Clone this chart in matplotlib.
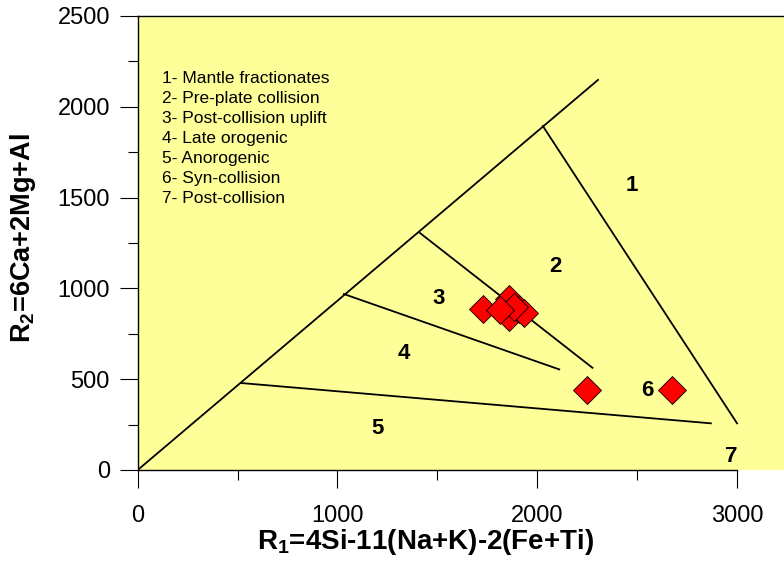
import matplotlib
matplotlib.use("Agg")
import matplotlib.pyplot as plt
from matplotlib.ticker import MultipleLocator, FixedLocator

plt.rcParams['font.family'] = ['Liberation Sans', 'DejaVu Sans']
plt.rcParams['mathtext.fontset'] = 'custom'
plt.rcParams['mathtext.rm'] = 'Liberation Sans'
plt.rcParams['mathtext.bf'] = 'Liberation Sans:bold'

# Field boundary lines (R1, R2)
boundary_lines = [
    ([0, 2304], [0, 2148]),
    ([2028, 3000], [1894, 257]),
    ([1413, 2276], [1305, 563]),
    ([1032, 2110], [969, 554]),
    ([517, 2869], [479, 257]),
]

# Field labels
field_labels = ["1", "2", "3", "4", "5", "6", "7"]
field_x = [2475, 2089, 1508, 1334, 1200, 2553, 2969]
field_y = [1569, 1118, 945, 643, 230, 437, 77]

# Sample points
sample_r1 = [1730, 1858, 1860, 1907, 1933, 1885, 1813, 2250, 2674]
sample_r2 = [885, 940, 844, 885, 863, 899, 881, 441, 441]

legend_lines = [
    "1- Mantle fractionates",
    "2- Pre-plate collision",
    "3- Post-collision uplift",
    "4- Late orogenic",
    "5- Anorogenic",
    "6- Syn-collision",
    "7- Post-collision",
]

W, H = 784, 561
fig = plt.figure(figsize=(W / 100, H / 100), dpi=100)
left, bottom, top = 137.7 / W, 1 - 470 / H, 1 - 16 / H
ax = fig.add_axes([left, bottom, 1 - left, top - bottom])
ax.set_facecolor('#FFFF99')

for xs, ys in boundary_lines:
    ax.plot(xs, ys, color='black', lw=1.3, zorder=2)

for t, x, y in zip(field_labels, field_x, field_y):
    ax.text(x, y, t, fontsize=16, fontweight='bold', ha='center', va='center', zorder=3)

ax.plot(sample_r1, sample_r2, linestyle='none', marker='D', markersize=14,
        markerfacecolor='#FF0000', markeredgecolor='black', markeredgewidth=0.6, zorder=4)

ax.text((162 - 137.7) / 646.3, (470 - 71) / 454, "\n".join(legend_lines), transform=ax.transAxes,
        fontsize=12.5, va='top', ha='left', linespacing=1.41)

ax.set_xlim(0, 3235)
ax.set_ylim(0, 2500)
ax.xaxis.set_major_locator(FixedLocator([0, 1000, 2000, 3000]))
ax.xaxis.set_minor_locator(FixedLocator([500, 1500, 2500]))
ax.yaxis.set_major_locator(MultipleLocator(500))
ax.yaxis.set_minor_locator(MultipleLocator(250))
ax.tick_params(which='major', length=13, width=0.8, direction='out', labelsize=17)
ax.tick_params(axis='x', which='major', pad=12)
ax.tick_params(axis='y', which='major', pad=7)
ax.tick_params(which='minor', length=7, width=0.8, direction='out')
ax.spines['right'].set_visible(False)
ax.spines['bottom'].set_bounds(0, 3000)
for s in ax.spines.values():
    s.set_linewidth(1.0)

ax.set_xlabel(r'$\mathbf{R_1}$=4Si-11(Na+K)-2(Fe+Ti)', fontsize=20, fontweight='bold')
ax.set_ylabel(r'$\mathbf{R_2}$=6Ca+2Mg+Al', fontsize=19.5, fontweight='bold')
ax.xaxis.set_label_coords((426 - 137.7) / 646.3, (470 - 527) / 454)
ax.yaxis.set_label_coords((38 - 137.7) / 646.3, (470 - 238) / 454)

fig.savefig('out.png', dpi=100)
